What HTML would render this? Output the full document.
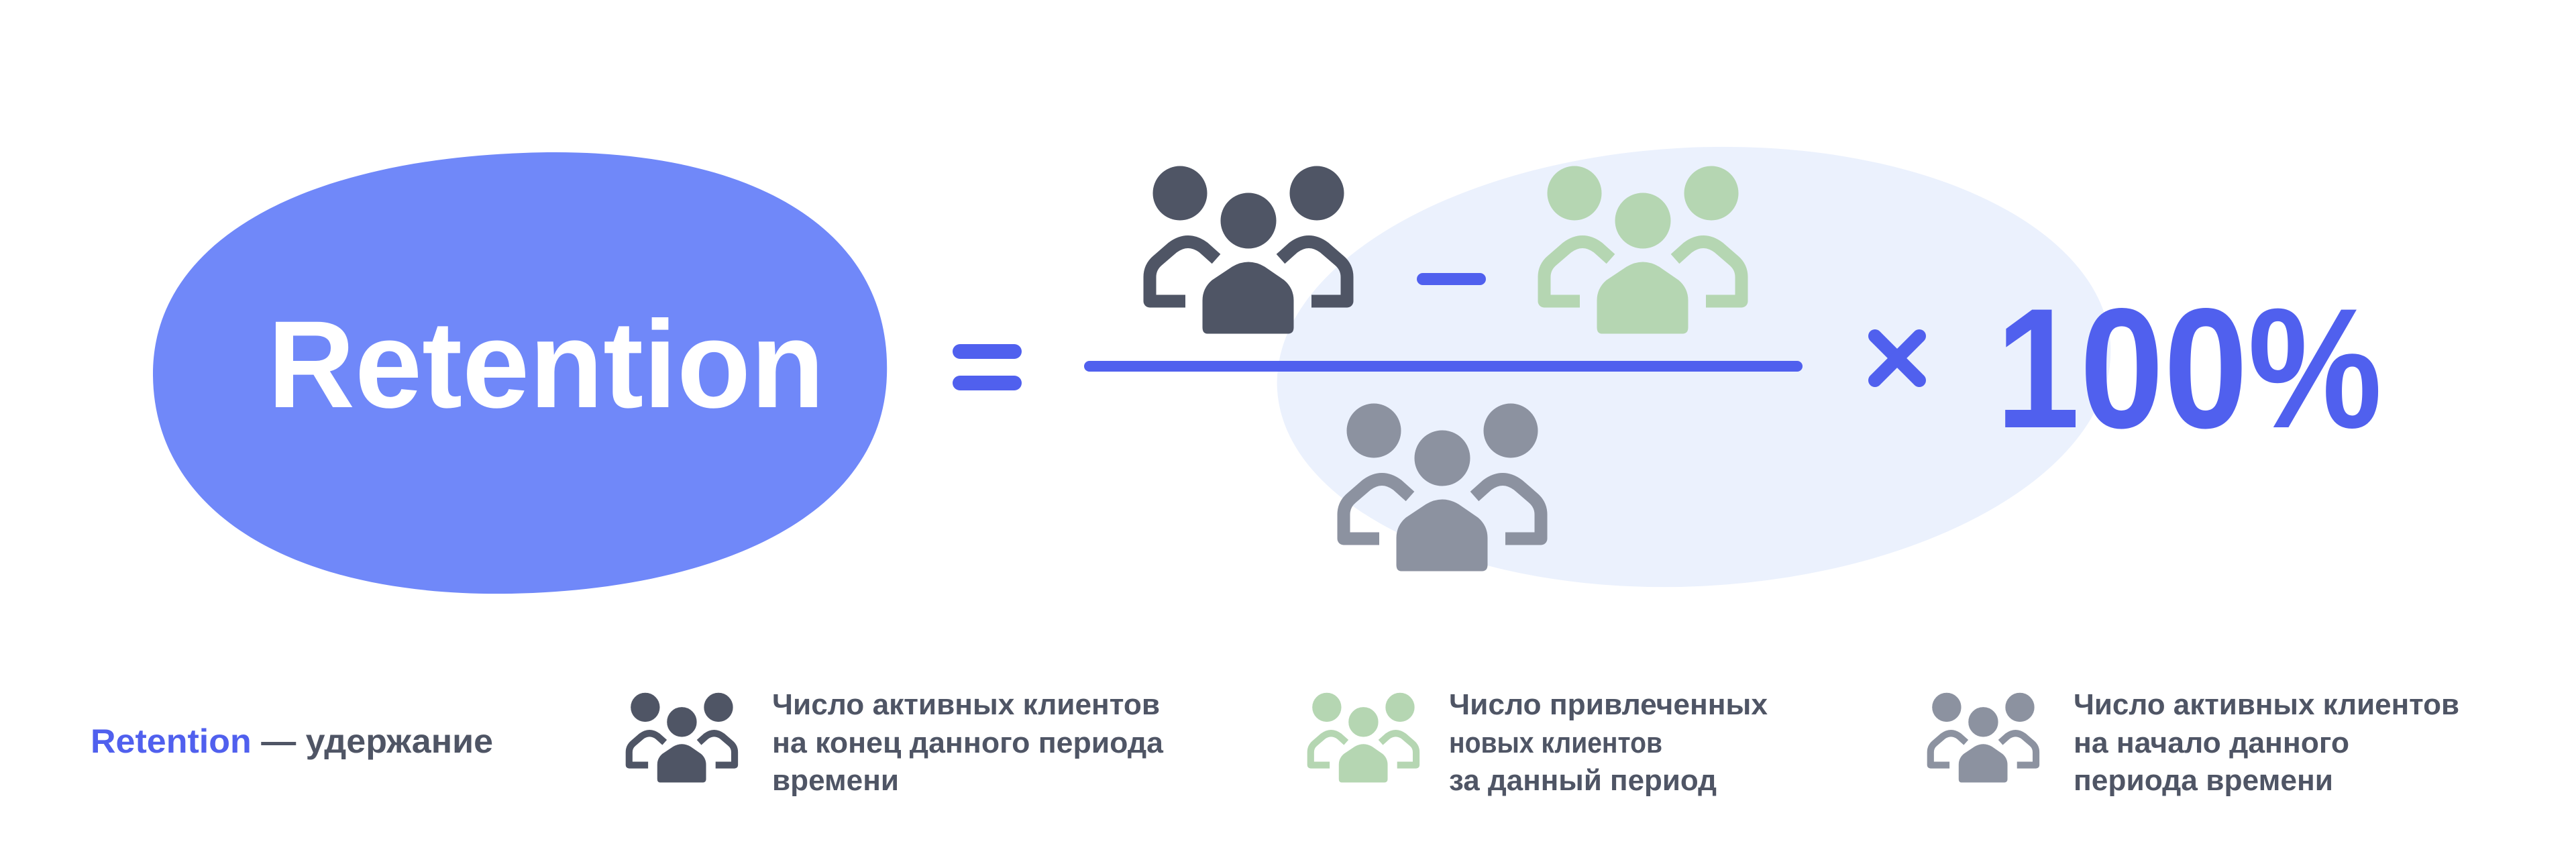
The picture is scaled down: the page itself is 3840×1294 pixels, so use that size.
<!DOCTYPE html>
<html><head><meta charset="utf-8"><style>html,body{margin:0;padding:0;background:#fff}svg{display:block}</style></head><body>
<svg width="3840" height="1294" viewBox="0 0 3840 1294" xmlns="http://www.w3.org/2000/svg" font-family="Liberation Sans, sans-serif" font-weight="bold">
<defs>
<g id="ppl">
<circle cx="67" cy="40" r="40"/><circle cx="271" cy="40" r="40"/><circle cx="169" cy="81" r="41"/>
<path d="M108,249 Q101,249 101,240 L101,200 Q101,182 115,170 L145,150 Q169,136 193,150 L222,170 Q236,182 236,200 L236,240 Q236,249 228,249 Z"/>
<path fill="none" stroke-width="19" stroke-linejoin="round" d="M75,201 H22 V165 Q22,150 34,140 L56,121 Q79,104 102,121 L121,138"/>
<path fill="none" stroke-width="19" stroke-linejoin="round" d="M263,201 H316 V165 Q316,150 304,140 L282,121 Q259,104 236,121 L217,138"/>
</g>
</defs>
<ellipse cx="2525" cy="547" rx="622" ry="327" fill="#EBF1FD" transform="rotate(-3 2525 547)"/>
<path d="M780,228 C1100,215 1330,330 1322,560 C1315,780 1050,880 760,885 C430,890 230,760 228,560 C226,360 450,240 780,228 Z" fill="#7088F9"/>
<text x="399" y="607" font-size="185" fill="#fff" textLength="830" lengthAdjust="spacingAndGlyphs">Retention</text>
<g stroke="#5060EE" stroke-linecap="round">
<line x1="1431" y1="524" x2="1512" y2="524" stroke-width="22"/>
<line x1="1431" y1="571" x2="1512" y2="571" stroke-width="22"/>
<line x1="1624" y1="546" x2="2679" y2="546" stroke-width="16"/>
<line x1="2121" y1="416" x2="2206" y2="416" stroke-width="18"/>
<line x1="2795" y1="501" x2="2861" y2="567" stroke-width="20"/>
<line x1="2861" y1="501" x2="2795" y2="567" stroke-width="20"/>
</g>
<text x="2975" y="637" font-size="255" fill="#5060EE" textLength="576" lengthAdjust="spacingAndGlyphs">100%</text>
<use href="#ppl" x="1692" y="248" fill="#4F5565" stroke="#4F5565"/>
<use href="#ppl" x="2280" y="248" fill="#B5D6B2" stroke="#B5D6B2"/>
<use href="#ppl" x="1981" y="602" fill="#8C92A0" stroke="#8C92A0"/>
<g transform="translate(926,1033) scale(0.535)"><use href="#ppl" fill="#4F5565" stroke="#4F5565"/></g>
<g transform="translate(1942,1033) scale(0.535)"><use href="#ppl" fill="#B5D6B2" stroke="#B5D6B2"/></g>
<g transform="translate(2866,1033) scale(0.535)"><use href="#ppl" fill="#8C92A0" stroke="#8C92A0"/></g>
<text x="135" y="1122" font-size="50" fill="#4F5565" textLength="600" lengthAdjust="spacingAndGlyphs"><tspan fill="#5060EE">Retention</tspan> — удержание</text>
<g font-size="44" fill="#4F5565">
<text x="1151" y="1065" textLength="578" lengthAdjust="spacingAndGlyphs">Число активных клиентов</text>
<text x="1151" y="1122" textLength="583" lengthAdjust="spacingAndGlyphs">на конец данного периода</text>
<text x="1151" y="1178" textLength="189" lengthAdjust="spacingAndGlyphs">времени</text>
<text x="2160" y="1065" textLength="475" lengthAdjust="spacingAndGlyphs">Число привлеченных</text>
<text x="2160" y="1122" textLength="318" lengthAdjust="spacingAndGlyphs">новых клиентов</text>
<text x="2160" y="1178" textLength="399" lengthAdjust="spacingAndGlyphs">за данный период</text>
<text x="3091" y="1065" textLength="575" lengthAdjust="spacingAndGlyphs">Число активных клиентов</text>
<text x="3091" y="1122" textLength="411" lengthAdjust="spacingAndGlyphs">на начало данного</text>
<text x="3091" y="1178" textLength="387" lengthAdjust="spacingAndGlyphs">периода времени</text>
</g>
</svg>
</body></html>
